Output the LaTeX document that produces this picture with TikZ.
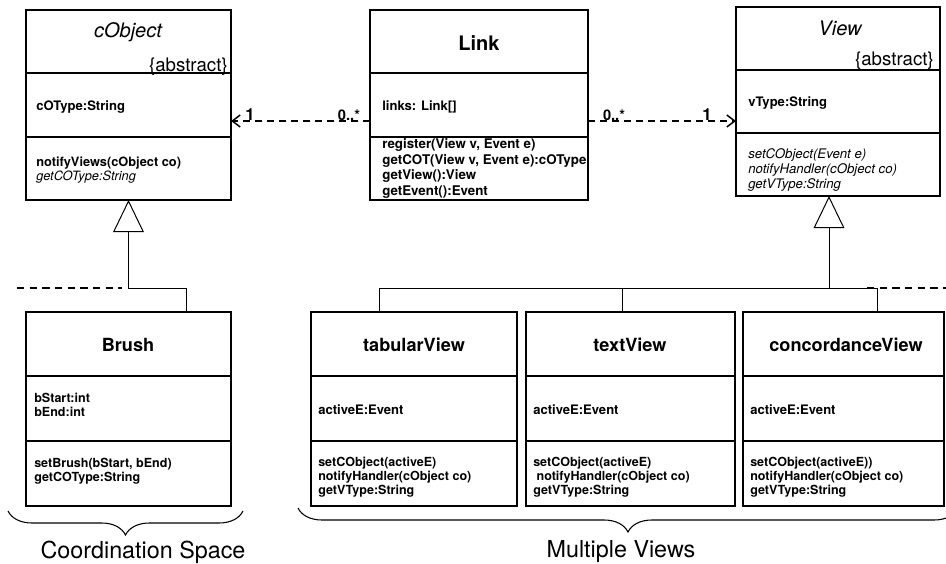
\documentclass[tikz,border=0pt]{standalone}
\usepackage{fontspec}
\setmainfont{TeX Gyre Heros}
\usetikzlibrary{arrows.meta,decorations.pathreplacing}

\newcommand\umlpart[6]{%
  \node[#6, minimum width={(#4-#2)*0.75pt}, minimum height={(#5-#3)*0.75pt}]
    (#1) at ({(#2+#4)/2},{(#3+#5)/2}) {};}

\tikzset{
  thinbox/.style={draw, line width=0.8pt, inner sep=0pt, outer sep=0pt},
  thickbox/.style={draw, line width=1.6pt, inner sep=0pt, outer sep=0pt},
  abstitle/.style={inner sep=0pt, font=\fontsize{15}{18}\selectfont\itshape},
  abstag/.style={inner sep=0pt, anchor=base east, font=\fontsize{14}{16}\selectfont},
  boldtitle/.style={inner sep=0pt, font=\fontsize{15}{18}\selectfont\bfseries},
  subtitle/.style={inner sep=0pt, font=\fontsize{13.6}{16}\selectfont\bfseries},
  attrtext/.style={inner sep=0pt, anchor=west, align=left, font=\fontsize{9.8}{10.5}\selectfont\bfseries},
  cmeth/.style={inner sep=0pt, anchor=west, align=left, font=\fontsize{9.6}{10.5}\selectfont},
  linkmeth/.style={inner sep=0pt, anchor=west, align=left, font=\fontsize{10}{11.6}\selectfont\bfseries},
  viewmeth/.style={inner sep=0pt, anchor=west, align=left, font=\fontsize{9.9}{11.25}\selectfont\itshape},
  lowmeth/.style={inner sep=0pt, anchor=west, align=left, font=\fontsize{9.4}{10.5}\selectfont\bfseries},
  assoc/.style={line width=1.1pt, dash pattern=on 5.5pt off 3.5pt,
    -{Straight Barb[length=6pt,width=9pt,line width=1.1pt]}},
  inh/.style={line width=0.75pt, -{Triangle[open,length=24pt,width=23pt,line width=0.75pt]}},
  hier/.style={line width=0.75pt},
  dashline/.style={line width=1.1pt, dash pattern=on 5.5pt off 4pt},
  multone/.style={inner sep=0pt, anchor=base, font=\fontsize{12.5}{14}\selectfont\bfseries},
  multmany/.style={inner sep=0pt, anchor=base, font=\fontsize{11}{13}\selectfont\bfseries},
  bracepath/.style={line width=0.8pt, decorate, decoration={brace, mirror, amplitude=18pt}},
  groupname/.style={inner sep=0pt, font=\fontsize{17.5}{20}\selectfont},
}

\begin{document}
\begin{tikzpicture}[x=0.75pt, y=-0.75pt]
\useasboundingbox (0,0) rectangle (946,564);

% cObject
\umlpart{cobjT}{26}{10}{231}{73}{thinbox}
\umlpart{cobjA}{26}{73}{231}{137}{thinbox}
\umlpart{cobjM}{26}{137}{231}{200}{thinbox}
\node[abstitle] (cobjName) at (128,32) {cObject};
\node[abstag] (cobjAbs) at (228,71) {\{abstract\}};
\node[attrtext] (cobjAttr) at (36,107) {cOType:String};
\node[cmeth] (cobjMeth) at (36,170) {\textbf{notifyViews(cObject co)}\\\textit{getCOType:String}};

% Link
\umlpart{linkT}{370}{10}{588}{73}{thickbox}
\umlpart{linkA}{370}{73}{588}{137}{thickbox}
\umlpart{linkM}{370}{137}{588}{200}{thickbox}
\node[boldtitle] (linkName) at (479,43) {Link};
\node[attrtext] (linkAttr) at (382,107) {links: Link[]};
\node[linkmeth] (linkMeth) at (382,168.5) {register(View v, Event e)\\getCOT(View v, Event e):cOType\\getView():View\\getEvent():Event};

% View
\umlpart{viewT}{736}{7}{940}{70}{thinbox}
\umlpart{viewA}{736}{70}{940}{133}{thinbox}
\umlpart{viewM}{736}{133}{940}{196}{thinbox}
\node[abstitle] (viewName) at (840,28) {View};
\node[abstag] (viewAbs) at (934,65) {\{abstract\}};
\node[attrtext] (viewAttr) at (748,103) {vType:String};
\node[viewmeth] (viewMeth) at (748,170) {setCObject(Event e)\\notifyHandler(cObject co)\\getVType:String};

% Brush
\umlpart{brushT}{26}{312}{231}{376}{thickbox}
\umlpart{brushA}{26}{376}{231}{441}{thickbox}
\umlpart{brushM}{26}{441}{231}{506}{thickbox}
\node[subtitle] (brushName) at (128,345) {Brush};
\node[lowmeth] (brushAttr) at (34,405) {bStart:int\\bEnd:int};
\node[lowmeth] (brushMeth) at (34,471) {setBrush(bStart, bEnd)\\getCOType:String};

% tabularView
\umlpart{tabT}{311}{312}{517}{376}{thickbox}
\umlpart{tabA}{311}{376}{517}{441}{thickbox}
\umlpart{tabM}{311}{441}{517}{506}{thickbox}
\node[subtitle] (tabName) at (414,345) {tabularView};
\node[attrtext] (tabAttr) at (318,410) {activeE:Event};
\node[lowmeth] (tabMeth) at (318,477) {setCObject(activeE)\\notifyHandler(cObject co)\\getVType:String};

% textView
\umlpart{textT}{526}{312}{735}{376}{thickbox}
\umlpart{textA}{526}{376}{735}{441}{thickbox}
\umlpart{textM}{526}{441}{735}{506}{thickbox}
\node[subtitle] (textName) at (630,345) {textView};
\node[attrtext] (textAttr) at (533,410) {activeE:Event};
\node[lowmeth] (textMeth) at (533,477) {setCObject(activeE)\\\hspace*{2.5pt}notifyHandler(cObject co)\\getVType:String};

% concordanceView
\umlpart{concT}{743}{312}{944}{376}{thickbox}
\umlpart{concA}{743}{376}{944}{441}{thickbox}
\umlpart{concM}{743}{441}{944}{506}{thickbox}
\node[subtitle] (concName) at (846,345) {concordanceView};
\node[attrtext] (concAttr) at (750,410) {activeE:Event};
\node[lowmeth] (concMeth) at (750,477) {setCObject(activeE))\\notifyHandler(cObject co)\\getVType:String};

% associations
\coordinate (ay) at (0,121);
\draw[assoc] (linkA.west |- ay) -- (cobjA.east |- ay);
\draw[assoc] (linkA.east |- ay) -- (viewA.west |- ay);
\node[multone] (mL1) at (250,120) {1};
\node[multmany] (mL0) at (349,120) {0..*};
\node[multmany] (mR0) at (614,120) {0..*};
\node[multone] (mR1) at (707,120) {1};

% generalisation: Brush -> cObject
\coordinate (bj) at (186,288);
\coordinate (dl) at (17,288);
\draw[dashline] (dl) -- (122,288);
\draw[inh] (brushT.north -| bj) -- (bj) -| (cobjM.south);

% generalisation: views -> View
\coordinate (vj) at (829,288);
\coordinate (tj) at (379,288);
\coordinate (xj) at (622,288);
\coordinate (cj) at (877,288);
\coordinate (dr0) at (867,288);
\coordinate (dr) at (946,288);
\draw[inh] (vj) -- (vj |- viewM.south);
\draw[hier] (tabT.north -| tj) -- (tj) -- (cj) -- (concT.north -| cj);
\draw[hier] (textT.north -| xj) -- (xj);
\draw[dashline] (dr0) -- (dr);

% braces
\coordinate (cb1) at (8,511);
\coordinate (cb2) at (243,511);
\draw[bracepath] (cb1) -- (cb2);
\coordinate (vb1) at (298,508);
\coordinate (vb2) at (958,508);
\draw[bracepath, decoration={aspect=0.5}] (vb1) -- (vb2);
\node[groupname] (csLabel) at (143,552) {Coordination Space};
\node[groupname] (mvLabel) at (621,552) {Multiple Views};
\end{tikzpicture}
\end{document}
